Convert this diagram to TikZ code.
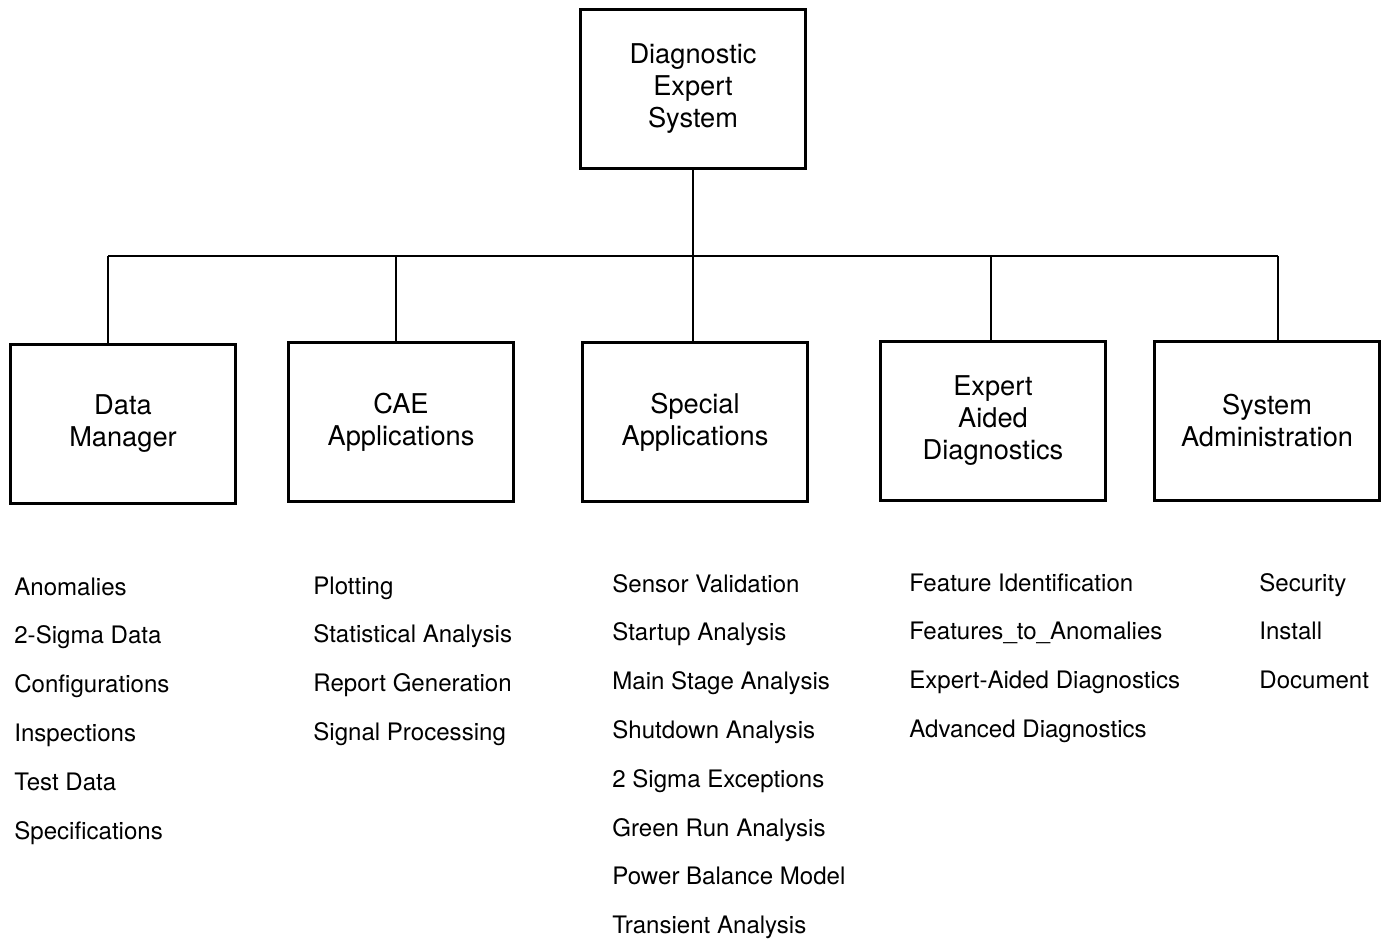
\documentclass[tikz,border=0pt]{standalone}
\usepackage{fontspec}
\setmainfont{TeX Gyre Heros}
\begin{document}
\begin{tikzpicture}[x=0.02cm, y=-0.02cm,
  box/.style={draw, line width=1.5pt, minimum width=4.5cm, minimum height=3.17cm,
    align=center, font=\fontsize{15.5}{18.2}\selectfont},
  item/.style={anchor=base west, inner sep=0pt, font=\fontsize{13.7}{16}\selectfont},
  link/.style={line width=1.4pt}]

\useasboundingbox (0,0) rectangle (1385,942);

% top of the tree
\node[box] (des) at (693,89) {Diagnostic\\Expert\\System};

% second level
\node[box] (dm) at (123,424) {Data\\Manager};
\node[box] (cae) at (401,422) {CAE\\Applications};
\node[box] (spec) at (695,422) {Special\\Applications};
\node[box] (ead) at (993,421) {Expert\\Aided\\Diagnostics};
\node[box] (sa) at (1267,421) {System\\Administration};

% bus
\coordinate (b1) at (108,256);
\coordinate (b2) at (396,256);
\coordinate (b3) at (693,256);
\coordinate (b4) at (991,256);
\coordinate (b5) at (1278,256);

\draw[link] (b1) -- (b5);
\draw[link] (des.south) -- (b3) -- (b3 |- spec.north);
\draw[link] (b1) -- (b1 |- dm.north);
\draw[link] (b2) -- (b2 |- cae.north);
\draw[link] (b4) -- (b4 |- ead.north);
\draw[link] (b5) -- (b5 |- sa.north);

% lists under the boxes
\foreach \t [count=\i] in {Anomalies, 2-Sigma Data, Configurations, Inspections, Test Data, Specifications}
  \node[item] (dm\i) at (14, {595+48.8*(\i-1)}) {\t};
\foreach \t [count=\i] in {Plotting, Statistical Analysis, Report Generation, Signal Processing}
  \node[item] (cae\i) at (313, {594+48.8*(\i-1)}) {\t};
\foreach \t [count=\i] in {Sensor Validation, Startup Analysis, Main Stage Analysis, Shutdown Analysis,
    2 Sigma Exceptions, Green Run Analysis, Power Balance Model, Transient Analysis}
  \node[item] (spec\i) at (612, {592+48.8*(\i-1)}) {\t};
\foreach \t [count=\i] in {Feature Identification, Features\_to\_Anomalies, Expert-Aided Diagnostics, Advanced Diagnostics}
  \node[item] (ead\i) at (909, {591+48.8*(\i-1)}) {\t};
\foreach \t [count=\i] in {Security, Install, Document}
  \node[item] (sa\i) at (1259, {591+48.8*(\i-1)}) {\t};

\end{tikzpicture}
\end{document}
